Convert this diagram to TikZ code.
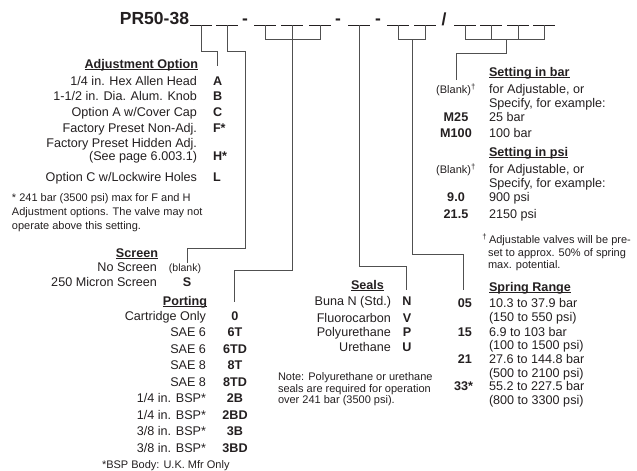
\documentclass[tikz,border=0pt]{standalone}
\usepackage{fontspec}
\setmainfont{Liberation Sans}
\definecolor{txt}{HTML}{231F20}
\definecolor{lin}{HTML}{505050}
\newcommand\hdrul[1]{\setbox0\hbox{\bfseries #1}\rlap{\rule[-2pt]{\wd0}{0.8pt}}\box0}
\begin{document}
\begin{tikzpicture}[x=1pt,y=-1pt,
  every node/.style={inner sep=0pt, outer sep=0pt, text=txt},
  main/.style={font=\fontsize{12.6}{14}\selectfont},
  code/.style={font=\fontsize{12.6}{14}\selectfont\bfseries},
  small/.style={font=\fontsize{11}{13}\selectfont},
  tiny/.style={font=\fontsize{10.5}{12}\selectfont},
  big/.style={font=\fontsize{17.5}{20}\selectfont\bfseries},
  rt/.style={anchor=base east},
  lt/.style={anchor=base west},
  ct/.style={anchor=base},
  conn/.style={draw=lin, line width=1pt},
  blankline/.style={draw=txt, line width=1pt}]
\useasboundingbox (0,0) rectangle (637,471);

% ---- title row ----
\node[big, rt] (title) at (189,24) {PR50-38};
\foreach \n/\c in {1/201,2/227,3/265,4/292,5/320,6/359,7/398,8/425,9/465,10/491,11/518,12/544}{
  \coordinate (b\n) at (\c,25);
  \draw[blankline] (\c-11,25) -- (\c+11,25);
}
\node[big, ct] (d1) at (245,24) {-};
\node[big, ct] (d2) at (338,24) {-};
\node[big, ct] (d3) at (378,24) {-};
\node[big, ct] (sl) at (444,25) {/};

% ---- connector ends ----
\coordinate (eA) at (217,66);
\coordinate (eS) at (187,263);
\coordinate (eP) at (234,302);
\coordinate (eN) at (406,290);
\coordinate (eR) at (463,290);
\coordinate (eB) at (456,80);

% ---- connectors ----
\draw[conn] (b1) -- (201,51) -| (eA);
\draw[conn] (b2) -- (227,51) -- (245,51) -- (245,248) -| (eS);
\draw[conn] (b3) -- (265,39) -- (320,39) -- (b5);
\draw[conn] (b4) -- (292,270) -| (eP);
\draw[conn] (b6) -- (359,266) -| (eN);
\draw[conn] (b7) -- (398,39) -- (425,39) -- (b8);
\draw[conn] (412,39) -- (412,254) -| (eR);
\draw[conn] (b9) -- (465,39) -- (544,39) -- (b12);
\draw[conn] (b10) -- (491,39);
\draw[conn] (b11) -- (518,39);
\draw[conn] (506,39) -- (506,53) -| (eB);

% ---- Adjustment option ----
\node[main, rt] (adjh) at (198,68) {\hdrul{Adjustment Option}};
\node[main, rt] (a1) at (197,85) {1/4 in. Hex Allen Head};
\node[code, lt] (cA) at (213,85) {A};
\node[main, rt] (a2) at (197,100) {1-1/2 in. Dia. Alum. Knob};
\node[code, lt] (cB) at (213,100) {B};
\node[main, rt] (a3) at (197,116) {Option A w/Cover Cap};
\node[code, lt] (cC) at (213,116) {C};
\node[main, rt] (a4) at (197,132) {Factory Preset Non-Adj.};
\node[code, lt] (cF) at (213,132) {F*};
\node[main, rt] (a5) at (197,147) {Factory Preset Hidden Adj.};
\node[main, rt] (a5b) at (197,160) {(See page 6.003.1)};
\node[code, lt] (cH) at (213,160) {H*};
\node[main, rt] (a6) at (197,181) {Option C w/Lockwire Holes};
\node[code, lt] (cL) at (213,181) {L};
\node[small, lt] (fn1) at (12,201) {* 241 bar (3500 psi) max for F and H};
\node[small, lt] (fn2) at (12,215) {Adjustment options. The valve may not};
\node[small, lt] (fn3) at (12,229) {operate above this setting.};

% ---- Screen ----
\node[main, rt] (scrh) at (158,257) {\hdrul{Screen}};
\node[main, rt] (s1) at (157,271) {No Screen};
\node[tiny, ct] (cBl) at (185,271) {(blank)};
\node[main, rt] (s2) at (157,286) {250 Micron Screen};
\node[code, ct] (cS) at (187,286) {S};

% ---- Porting ----
\node[main, rt] (porh) at (207,305) {\hdrul{Porting}};
\foreach \y/\t/\c [count=\i] in {
  320/Cartridge Only/0,
  336.5/SAE 6/6T,
  353/SAE 6/6TD,
  369.5/SAE 8/8T,
  386/SAE 8/8TD,
  402.5/1\slash4 in. BSP*/2B,
  419/1\slash4 in. BSP*/2BD,
  435.5/3\slash8 in. BSP*/3B,
  452/3\slash8 in. BSP*/3BD}{
  \node[main, rt] (p\i) at (206,\y) {\t};
  \node[code, ct] (cp\i) at (235,\y) {\c};
}
\node[small, lt] (bsp) at (102,468) {*BSP Body: U.K. Mfr Only};

% ---- Seals ----
\node[main, rt] (sealh) at (384,289) {\hdrul{Seals}};
\node[main, rt] (se1) at (391,305) {Buna N (Std.)};
\node[code, ct] (cN) at (407,305) {N};
\node[main, rt] (se2) at (391,322) {Fluorocarbon};
\node[code, ct] (cV) at (407,322) {V};
\node[main, rt] (se3) at (391,336) {Polyurethane};
\node[code, ct] (cPu) at (407,336) {P};
\node[main, rt] (se4) at (391,351) {Urethane};
\node[code, ct] (cU) at (407,351) {U};
\node[small, lt] (nt1) at (278,380) {Note: Polyurethane or urethane};
\node[small, lt] (nt2) at (278,392) {seals are required for operation};
\node[small, lt] (nt3) at (278,403.5) {over 241 bar (3500 psi).};

% ---- Setting ----
\node[main, lt] (barh) at (489,76) {\hdrul{Setting in bar}};
\node[small, ct] (cb0) at (456,93) {(Blank)\textsuperscript{†}};
\node[main, lt] (bt1) at (489,93) {for Adjustable, or};
\node[main, lt] (bt2) at (489,107) {Specify, for example:};
\node[code, ct] (cM25) at (456,121) {M25};
\node[main, lt] (bt3) at (489,121) {25 bar};
\node[code, ct] (cM100) at (456,137) {M100};
\node[main, lt] (bt4) at (489,137) {100 bar};
\node[main, lt] (psih) at (489,156) {\hdrul{Setting in psi}};
\node[small, ct] (cp0) at (456,173) {(Blank)\textsuperscript{†}};
\node[main, lt] (pt1) at (489,173) {for Adjustable, or};
\node[main, lt] (pt2) at (489,187) {Specify, for example:};
\node[code, ct] (c90) at (456,201) {9.0};
\node[main, lt] (pt3) at (489,201) {900 psi};
\node[code, ct] (c215) at (456,218) {21.5};
\node[main, lt] (pt4) at (489,218) {2150 psi};
\node[small, lt] (dg1) at (489,243) {\llap{\textsuperscript{†}\,}Adjustable valves will be pre-};
\node[small, lt] (dg2) at (488,256) {set to approx. 50\% of spring};
\node[small, lt] (dg3) at (488,268) {max. potential.};

% ---- Spring range ----
\node[main, lt] (sprh) at (489,291) {\hdrul{Spring Range}};
\node[code, rt] (c05) at (472,307) {05};
\node[main, lt] (r1) at (489,307) {10.3 to 37.9 bar};
\node[main, lt] (r1b) at (489,321) {(150 to 550 psi)};
\node[code, rt] (c15) at (472,336) {15};
\node[main, lt] (r2) at (489,336) {6.9 to 103 bar};
\node[main, lt] (r2b) at (489,349) {(100 to 1500 psi)};
\node[code, rt] (c21) at (472,363) {21};
\node[main, lt] (r3) at (489,363) {27.6 to 144.8 bar};
\node[main, lt] (r3b) at (489,377) {(500 to 2100 psi)};
\node[code, rt] (c33) at (473,390) {33*};
\node[main, lt] (r4) at (489,390) {55.2 to 227.5 bar};
\node[main, lt] (r4b) at (489,404) {(800 to 3300 psi)};
\end{tikzpicture}
\end{document}
